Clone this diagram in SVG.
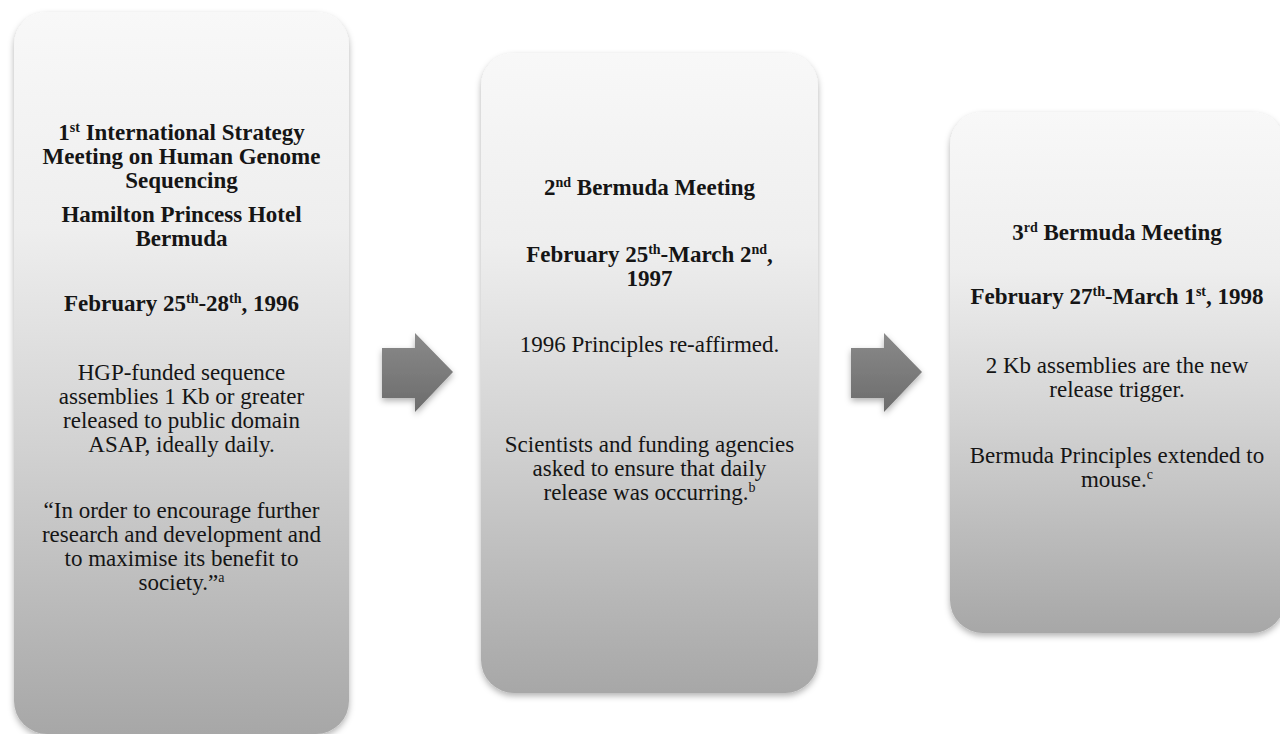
<svg xmlns="http://www.w3.org/2000/svg" width="1280" height="734" viewBox="0 0 1280 734">
<defs>
<linearGradient id="boxGrad" x1="0" y1="0" x2="0" y2="1">
<stop offset="0" stop-color="#f8f8f8"/>
<stop offset="0.3" stop-color="#eeeeee"/>
<stop offset="0.6" stop-color="#d2d2d2"/>
<stop offset="1" stop-color="#a7a7a7"/>
</linearGradient>
<linearGradient id="arrowGrad" x1="0" y1="0" x2="0" y2="1">
<stop offset="0" stop-color="#8a8a8a"/>
<stop offset="1" stop-color="#6c6c6c"/>
</linearGradient>
<filter id="shadow" x="-10%" y="-10%" width="120%" height="120%">
<feDropShadow dx="0" dy="3" stdDeviation="3" flood-color="#000" flood-opacity="0.3"/>
</filter>
</defs>
<style>
.box{fill:url(#boxGrad);filter:url(#shadow);}
.arrow{fill:url(#arrowGrad);filter:url(#shadow);}
text{font-family:"Liberation Serif","Times New Roman",serif;font-size:23px;fill:#151515;text-anchor:middle;}
.b{font-weight:bold;}
.sup{font-size:14px;}
</style>
<rect width="1280" height="734" fill="#ffffff"/>

<g id="connectors">
<path class="arrow" d="M382,348 H415 V333 L453,372 L415,412 V398 H382 Z"/>
<path class="arrow" d="M851,348 H884 V333 L922,372 L884,412 V398 H851 Z"/>
</g>

<g id="node1">
<rect class="box" x="14" y="12" width="335" height="722" rx="33" ry="33"/>
<text class="b" x="181.5" y="140">1<tspan class="sup" dy="-8">st</tspan><tspan dy="8"> International Strategy</tspan></text>
<text class="b" x="181.5" y="164">Meeting on Human Genome</text>
<text class="b" x="181.5" y="188">Sequencing</text>
<text class="b" x="181.5" y="222">Hamilton Princess Hotel</text>
<text class="b" x="181.5" y="246">Bermuda</text>
<text class="b" x="181.5" y="311">February 25<tspan class="sup" dy="-8">th</tspan><tspan dy="8">-28</tspan><tspan class="sup" dy="-8">th</tspan><tspan dy="8">, 1996</tspan></text>
<text x="181.5" y="380">HGP-funded sequence</text>
<text x="181.5" y="404">assemblies 1 Kb or greater</text>
<text x="181.5" y="428">released to public domain</text>
<text x="181.5" y="452">ASAP, ideally daily.</text>
<text x="181.5" y="518">“In order to encourage further</text>
<text x="181.5" y="542">research and development and</text>
<text x="181.5" y="566">to maximise its benefit to</text>
<text x="181.5" y="590">society.”<tspan class="sup" dy="-8">a</tspan></text>
</g>

<g id="node2">
<rect class="box" x="481" y="53" width="337" height="640" rx="33" ry="33"/>
<text class="b" x="649.5" y="195">2<tspan class="sup" dy="-8">nd</tspan><tspan dy="8"> Bermuda Meeting</tspan></text>
<text class="b" x="649.5" y="262">February 25<tspan class="sup" dy="-8">th</tspan><tspan dy="8">-March 2</tspan><tspan class="sup" dy="-8">nd</tspan><tspan dy="8">,</tspan></text>
<text class="b" x="649.5" y="286">1997</text>
<text x="649.5" y="352">1996 Principles re-affirmed.</text>
<text x="649.5" y="452">Scientists and funding agencies</text>
<text x="649.5" y="476">asked to ensure that daily</text>
<text x="649.5" y="500">release was occurring.<tspan class="sup" dy="-8">b</tspan></text>
</g>

<g id="node3">
<rect class="box" x="950" y="112" width="335" height="521" rx="33" ry="33"/>
<text class="b" x="1117" y="240">3<tspan class="sup" dy="-8">rd</tspan><tspan dy="8"> Bermuda Meeting</tspan></text>
<text class="b" x="1117" y="304">February 27<tspan class="sup" dy="-8">th</tspan><tspan dy="8">-March 1</tspan><tspan class="sup" dy="-8">st</tspan><tspan dy="8">, 1998</tspan></text>
<text x="1117" y="373">2 Kb assemblies are the new</text>
<text x="1117" y="397">release trigger.</text>
<text x="1117" y="463">Bermuda Principles extended to</text>
<text x="1117" y="487">mouse.<tspan class="sup" dy="-8">c</tspan></text>
</g>
</svg>
